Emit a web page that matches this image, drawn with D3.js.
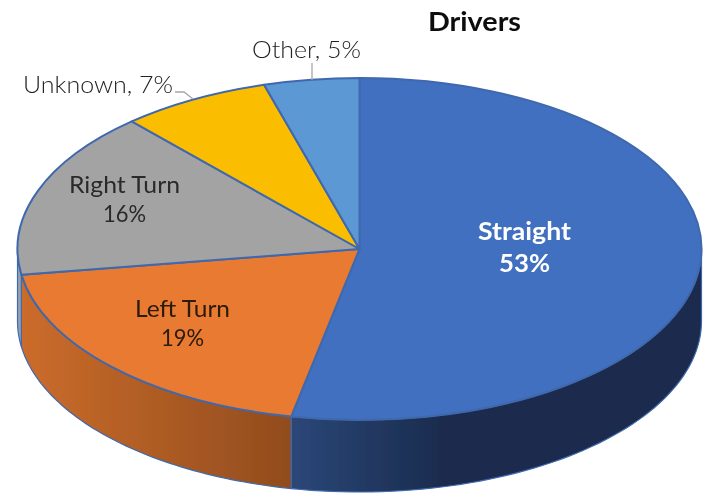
<!DOCTYPE html>
<html>
<head>
<meta charset="utf-8">
<script src="https://cdn.jsdelivr.net/npm/d3@7"></script>
<style>
  html, body { margin: 0; padding: 0; background: #fff; }
  svg { display: block; }
  text { font-family: "Lato", "Open Sans", sans-serif; }
</style>
</head>
<body>
<div id="chart-area"></div>
<script>
// data, clockwise from 12 o'clock (shown rounded on the chart)
var categories = ["Straight", "Left Turn", "Right Turn", "Unknown", "Other"];
var shares = [53.2, 19.4, 15.8, 7.1, 4.5];
var colors = ["#4170bf", "#e97a30", "#a3a3a3", "#fbbd00", "#5b98d4"];
var wallLeft = ["#2b4778", "#cb6c2b", "#98a0ac", "#c99700", "#4a7cab"];
var wallRight = ["#1a2c4e", "#914c1d", "#98a0ac", "#c99700", "#4a7cab"];

var width = 711, height = 498;
var cx = 359.5, cy = 249, rx = 342, ry = 171, depth = 72;
var edge = "#3f68ad";

var svg = d3.select("#chart-area").append("svg")
    .attr("width", width)
    .attr("height", height);

var defs = svg.append("defs");

// the reference is a slightly soft screenshot
defs.append("filter").attr("id", "soft")
  .append("feGaussianBlur").attr("stdDeviation", 0.4);

var root = svg.append("g").attr("filter", "url(#soft)");

var pie = d3.pie().sort(null).value(function(d) { return d; });
var slices = pie(shares);

function px(a) { return cx + rx * Math.sin(a); }
function py(a) { return cy - ry * Math.cos(a); }

var line = d3.line();

// the side wall is only seen on the front half of the ellipse
slices.forEach(function(s, i) {
  var a0 = Math.max(s.startAngle, Math.PI / 2);
  var a1 = Math.min(s.endAngle, Math.PI * 1.5);
  if (a1 <= a0) return;

  var n = 60;
  var ts = d3.range(n + 1).map(function(k) { return a0 + (a1 - a0) * k / n; });
  var pts = ts.map(function(a) { return [px(a), py(a)]; })
    .concat(ts.slice().reverse().map(function(a) { return [px(a), py(a) + depth]; }));

  var xs = pts.map(function(p) { return p[0]; });
  var gid = "wall" + i;
  var g = defs.append("linearGradient")
      .attr("id", gid)
      .attr("gradientUnits", "userSpaceOnUse")
      .attr("x1", d3.min(xs))
      .attr("x2", i === 0 ? d3.min(xs) + 150 : d3.max(xs))
      .attr("y1", 0).attr("y2", 0);
  g.append("stop").attr("offset", 0).attr("stop-color", wallLeft[i]);
  g.append("stop").attr("offset", 1).attr("stop-color", wallRight[i]);

  root.append("path")
      .attr("d", line(pts) + "Z")
      .attr("fill", "url(#" + gid + ")")
      .attr("stroke", edge)
      .attr("stroke-width", 1.2)
      .attr("stroke-linejoin", "round");
});

// top face, a d3 arc squashed into an ellipse
var arc = d3.arc().innerRadius(0).outerRadius(rx);

root.append("g")
    .attr("transform", "translate(" + cx + "," + cy + ") scale(1," + (ry / rx) + ")")
  .selectAll("path")
  .data(slices)
  .enter()
  .append("path")
    .attr("d", arc)
    .attr("fill", function(d, i) { return colors[i]; })
    .attr("stroke", edge)
    .attr("stroke-width", 2)
    .attr("stroke-linejoin", "round")
    .attr("vector-effect", "non-scaling-stroke");

// leader lines
root.append("path")
    .attr("d", line([[175, 92], [184, 92], [193, 99]]))
    .attr("fill", "none").attr("stroke", "#a6a6a6").attr("stroke-width", 1.3);
root.append("path")
    .attr("d", line([[312, 63], [312, 80]]))
    .attr("fill", "none").attr("stroke", "#a6a6a6").attr("stroke-width", 1.3);

// labels: w = text width in the reference, step = line spacing
var labelPos = [
  {x: 524.5, y: 240, size: 24, weight: 700, fill: "#fff", step: 32, w: 93, w2: 51},
  {x: 182.5, y: 317, size: 24, weight: 400, fill: "#2a1a0c", step: 29, w: 95, w2: 43},
  {x: 124.5, y: 193, size: 24, weight: 400, fill: "#2a2a2a", step: 29, w: 111, w2: 43},
  {x: 98, y: 93, size: 24, weight: 300, fill: "#222", w: 150},
  {x: 306.5, y: 58, size: 24, weight: 300, fill: "#222", w: 109}
];

function addLabel(str, x, y, p, w) {
  root.append("text")
      .attr("x", x).attr("y", y)
      .attr("text-anchor", "middle")
      .attr("font-size", p.size)
      .attr("font-weight", p.weight)
      .attr("fill", p.fill)
      .attr("textLength", w)
      .attr("lengthAdjust", "spacingAndGlyphs")
      .text(str);
}

categories.forEach(function(c, i) {
  var pct = Math.round(shares[i]) + "%";
  var p = labelPos[i];
  if (p.step) {
    addLabel(c, p.x, p.y, p, p.w);
    addLabel(pct, p.x, p.y + p.step, p, p.w2);
  } else {
    addLabel(c + ", " + pct, p.x, p.y, p, p.w);
  }
});

addLabel("Drivers", 474.5, 31, {size: 27, weight: 700, fill: "#111"}, 93);
</script>
</body>
</html>
